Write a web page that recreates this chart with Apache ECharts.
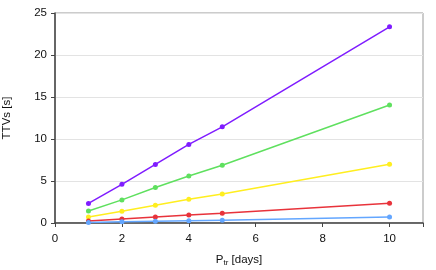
<!DOCTYPE html>
<html><head><meta charset="utf-8">
<script src="https://cdn.jsdelivr.net/npm/echarts@6/dist/echarts.min.js"></script>
<style>html,body{margin:0;padding:0;background:#fff}#c{width:436px;height:270px}</style>
</head><body><div id="c"></div>
<script>
const periods = [1, 2, 3, 4, 5, 10];
const purple = [2.33, 4.6, 6.97, 9.35, 11.45, 23.35];
const green = [1.43, 2.75, 4.22, 5.6, 6.88, 14.05];
const yellow = [0.72, 1.4, 2.11, 2.83, 3.45, 7.0];
const red = [0.24, 0.48, 0.72, 0.94, 1.16, 2.35];
const blue = [0.07, 0.14, 0.21, 0.28, 0.34, 0.72];
const seriesList = [
  {data: purple, color: '#7f1cff'},
  {data: green, color: '#5fe05f'},
  {data: yellow, color: '#ffee1f'},
  {data: red, color: '#e8333b'},
  {data: blue, color: '#63a6ff'}
];
const chart = echarts.init(document.getElementById('c'));
const font = 'Liberation Sans, Arial, sans-serif';
chart.setOption({
  animation: false,
  grid: {left: 55, right: 13, top: 13, bottom: 47, outerBoundsMode: 'none', containLabel: false,
    show: true, borderColor: '#999', borderWidth: 1},
  xAxis: {
    type: 'value', min: 0, max: 11, interval: 2,
    axisLine: {show: true, onZero: false, lineStyle: {color: '#444', width: 1.5}},
    axisTick: {show: true, length: 4, lineStyle: {color: '#444'}},
    axisLabel: {color: '#111', fontSize: 11.5, fontFamily: font, margin: 10,
      formatter: v => v > 10 ? '' : String(v)},
    splitLine: {show: false},
    name: '{a|P}{b|tr}{a| [days]}', nameLocation: 'middle', nameGap: 30,
    nameTextStyle: {rich: {
      a: {fontSize: 11.5, fontFamily: font, color: '#111'},
      b: {fontSize: 8, fontFamily: font, color: '#111', padding: [6, 0, 0, 0]}
    }}
  },
  yAxis: {
    type: 'value', min: 0, max: 25, interval: 5,
    axisLine: {show: true, lineStyle: {color: '#444', width: 1.5}},
    axisTick: {show: true, length: 4, lineStyle: {color: '#444'}},
    axisLabel: {color: '#111', fontSize: 11.5, fontFamily: font, margin: 8},
    splitLine: {show: true, lineStyle: {color: '#e3e3e3', width: 1}},
    name: 'TTVs [s]', nameLocation: 'middle', nameGap: 42, nameRotate: 90,
    nameTextStyle: {fontSize: 11.5, fontFamily: font, color: '#111'}
  },
  series: seriesList.map(s => ({
    type: 'line',
    data: periods.map((p, i) => [p, s.data[i]]),
    symbol: 'circle', symbolSize: 5,
    lineStyle: {color: s.color, width: 1.5},
    itemStyle: {color: s.color}
  }))
});
</script></body></html>
